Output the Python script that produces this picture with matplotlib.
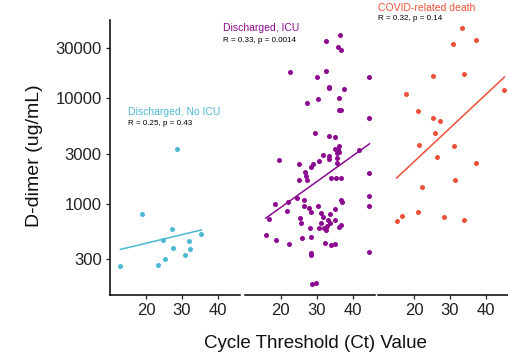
import matplotlib

matplotlib.use("Agg")
import matplotlib.pyplot as plt
import numpy as np

plt.rcParams["font.family"] = ["Liberation Sans", "DejaVu Sans"]

# --- data (Ct value, D-dimer ug/mL) ---
groups = ["Discharged, No ICU", "Discharged, ICU", "COVID-related death"]
group_colors = ["#4CB9D3", "#8B0A8F", "#EE5038"]
stats_text = ["R = 0.25, p = 0.43", "R = 0.33, p = 0.0014", "R = 0.32, p = 0.14"]

ct_no_icu = [12.9, 18.8, 28.5, 27.2, 24.8, 27.4, 25.2, 23.4, 30.9, 31.8, 32.1, 35.4]
dd_no_icu = [258, 796, 3311, 573, 454, 384, 300, 261, 327, 441, 371, 514]

ct_icu = [
    36.6, 32.5, 35.9, 36.8, 22.7, 32.6, 30.0, 44.7, 33.6, 33.5, 37.7, 30.3,
    36.2, 27.4, 36.3, 36.8, 44.7, 29.7, 33.5, 35.2, 36.3, 35.0, 36.1, 41.8,
    35.6, 36.3, 31.8, 33.4, 33.6, 35.7, 35.8, 19.5, 30.8, 25.1, 29.0, 28.6,
    26.8, 27.1, 25.2, 27.4, 34.1, 35.3, 36.8, 44.7, 36.7, 37.1, 44.7, 44.7,
    18.6, 22.2, 24.6, 26.4, 26.4, 30.5, 27.9, 21.8, 28.6, 31.2, 35.2, 25.5,
    16.8, 33.7, 31.7, 33.3, 35.0, 25.7, 31.3, 33.8, 33.0, 36.8, 36.3, 28.2,
    30.8, 32.5, 32.0, 15.9, 18.7, 26.1, 28.5, 22.3, 32.4, 34.0, 35.0, 28.5,
    28.5, 44.7, 28.8, 29.9,
]
dd_icu = [
    39800, 34700, 30400, 28500, 17770, 18300, 16000, 16000, 12900, 12450, 12230, 9860,
    10140, 9030, 7700, 7700, 6470, 4660, 4390, 4320, 3530, 3310, 3290, 3260,
    3010, 3120, 2880, 2840, 2640, 2700, 2420, 2590, 2550, 2390, 2390, 2250,
    2000, 1835, 1670, 1680, 1760, 1740, 1740, 1970, 1100, 1035, 1200, 953,
    1000, 1050, 1140, 1080, 960, 960, 918, 849, 831, 813, 893, 729,
    713, 796, 755, 703, 703, 662, 662, 662, 617, 630, 605, 594,
    586, 565, 594, 510, 454, 478, 481, 413, 425, 410, 418, 340,
    327, 347, 173, 177,
]

ct_death = [33.3, 30.7, 37.2, 25.3, 33.9, 45.1, 17.7, 21.1, 25.3, 27.1, 25.8,
            21.3, 31.2, 26.4, 37.2, 31.3, 22.1, 21.1, 16.7, 15.2, 28.4, 34.0]
dd_death = [46100, 32700, 35900, 16200, 17100, 12000, 11070, 7590, 6470, 6100, 4720,
            3590, 3550, 2760, 2450, 1670, 1435, 831, 767, 683, 755, 703]

ct_values = [ct_no_icu, ct_icu, ct_death]
dd_values = [dd_no_icu, dd_icu, dd_death]

y_ticks = [300, 1000, 3000, 10000, 30000]
y_tick_labels = ["300", "1000", "3000", "10000", "30000"]
x_ticks = [20, 30, 40]

W, H = 508, 360
fig = plt.figure(figsize=(W / 100, H / 100), dpi=100)

panel_left = [110, 244.5, 378]
panel_w = 130
top_px, bottom_px = 20, 295

# label placement in axes fraction (x, y of group name, y of stats line)
label_pos = [(0.141, 0.665, 0.623), (-0.163, 0.970, 0.927), (-0.002, 1.044, 1.004)]

for i in range(3):
    ax = fig.add_axes([panel_left[i] / W, 1 - bottom_px / H, panel_w / W, (bottom_px - top_px) / H])
    x = np.array(ct_values[i], dtype=float)
    y = np.array(dd_values[i], dtype=float)
    c = group_colors[i]

    ax.scatter(x, y, s=13, color=c, linewidths=0, zorder=3)
    # linear fit in log space, drawn over the data range (like geom_smooth lm)
    slope, intercept = np.polyfit(x, np.log10(y), 1)
    xs = np.array([x.min(), x.max()])
    ax.plot(xs, 10 ** (intercept + slope * xs), color=c, lw=1.1, zorder=2)

    ax.set_yscale("log")
    ax.set_ylim(137, 55200)
    ax.set_xlim(10.0, 46.1)
    ax.set_xticks(x_ticks)
    ax.set_xticklabels([str(t) for t in x_ticks], fontsize=12, color="#222222")
    ax.minorticks_off()
    ax.tick_params(axis="x", direction="out", length=3, width=0.9, pad=3, color="#222222")

    for side in ["top", "right"]:
        ax.spines[side].set_visible(False)
    ax.spines["bottom"].set_linewidth(1.1)
    ax.spines["left"].set_linewidth(1.1)

    if i == 0:
        ax.set_yticks(y_ticks)
        ax.set_yticklabels(y_tick_labels, fontsize=12, color="#222222")
        ax.tick_params(axis="y", direction="out", length=3, width=0.9, pad=3, color="#222222")
    else:
        ax.spines["left"].set_visible(False)
        ax.set_yticks([])

    lx, ly, ry = label_pos[i]
    ax.text(lx, ly, groups[i], transform=ax.transAxes, color=c, fontsize=7.5,
            ha="left", va="center", zorder=5)
    ax.text(lx, ry, stats_text[i], transform=ax.transAxes, color="black", fontsize=5.8,
            ha="left", va="center", zorder=5)
    ax.patch.set_alpha(0)

fig.text(34.5 / W, 1 - 156 / H, "D-dimer (ug/mL)", rotation=90, fontsize=14,
         ha="center", va="center", color="#111111")
fig.text(315 / W, 1 - 343 / H, "Cycle Threshold (Ct) Value", fontsize=13.5,
         ha="center", va="center", color="#111111")

fig.savefig("out.png", dpi=100)
plt.close(fig)
